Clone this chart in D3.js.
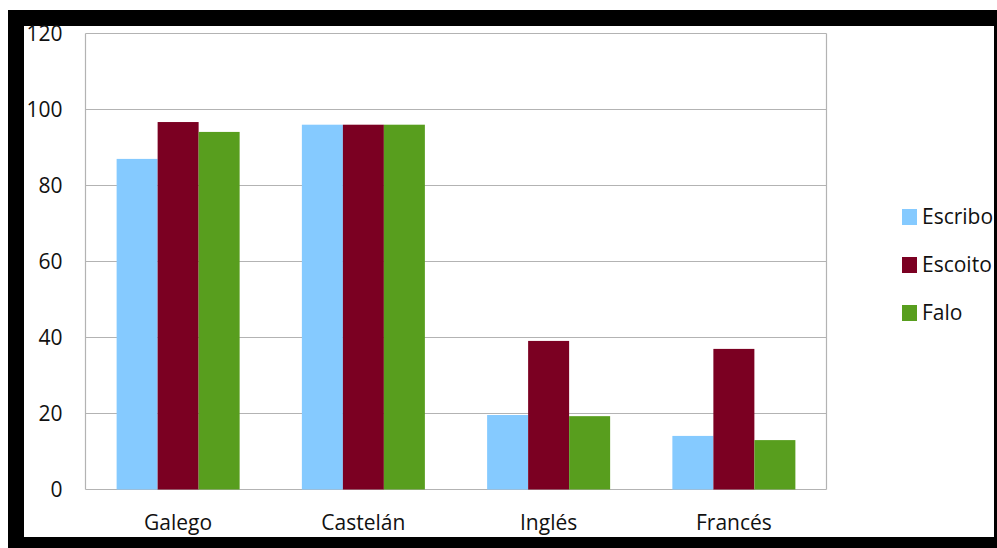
<!DOCTYPE html>
<html>
  <head>
    <meta charset="utf-8" />
    <title>Linguas</title>
    <script src="https://cdn.jsdelivr.net/npm/d3@7"></script>
    <style>
      body { margin: 0; background: #fff; }
      text { font-family: "Open Sans", sans-serif; fill: #111; }
    </style>
  </head>
  <body>
    <script>
// data
var categories = ["Galego", "Castelán", "Inglés", "Francés"];
var seriesNames = ["Escribo", "Escoito", "Falo"];
var escribo = [87, 96, 19.6, 14.1];
var escoito = [96.7, 96, 39.1, 37];
var falo = [94.1, 96, 19.3, 13];
var yTicks = [0, 20, 40, 60, 80, 100, 120];
var colors = ["#85caff", "#7b0022", "#589e1e"];

var w = 997, h = 548;
var svg = d3.select("body").append("svg").attr("width", w).attr("height", h);

// black frame
svg.append("rect").attr("x", 8).attr("y", 10).attr("width", 1000).attr("height", 560).attr("fill", "#000");
svg.append("rect").attr("x", 24).attr("y", 26).attr("width", 970).attr("height", 511).attr("fill", "#fff");

var plot = { left: 85.5, right: 826.5, top: 33.5, bottom: 489.5 };

var x = d3.scaleBand()
  .domain(categories)
  .range([plot.left, plot.right])
  .paddingInner(0.336)
  .paddingOuter(0.168);

var xs = d3.scaleBand().domain(seriesNames).range([0, x.bandwidth()]);

var y = d3.scaleLinear().domain([0, 120]).range([plot.bottom, plot.top]);

// gridlines
svg.append("g").selectAll("line")
  .data(yTicks)
  .enter().append("line")
  .attr("x1", plot.left).attr("x2", plot.right)
  .attr("y1", function(d) { return y(d); })
  .attr("y2", function(d) { return y(d); })
  .attr("stroke", "#b3b3b3").attr("stroke-width", 1.2);

// plot box sides
svg.append("line").attr("x1", plot.left).attr("x2", plot.left)
  .attr("y1", plot.top).attr("y2", plot.bottom).attr("stroke", "#b3b3b3").attr("stroke-width", 1.2);
svg.append("line").attr("x1", plot.right).attr("x2", plot.right)
  .attr("y1", plot.top).attr("y2", plot.bottom).attr("stroke", "#b3b3b3").attr("stroke-width", 1.2);

var table = categories.map(function(c, i) {
  return { cat: c, vals: [escribo[i], escoito[i], falo[i]] };
});

var groups = svg.append("g").selectAll("g")
  .data(table)
  .enter().append("g")
  .attr("transform", function(d) { return "translate(" + x(d.cat) + ",0)"; });

groups.selectAll("rect")
  .data(function(d) { return d.vals.map(function(v, j) { return { name: seriesNames[j], v: v, j: j }; }); })
  .enter().append("rect")
  .attr("x", function(d) { return xs(d.name); })
  .attr("width", xs.bandwidth())
  .attr("y", function(d) { return y(d.v); })
  .attr("height", function(d) { return y(0) - y(d.v); })
  .attr("fill", function(d) { return colors[d.j]; });

// y axis labels
var yAxis = svg.append("g")
  .attr("transform", "translate(" + (plot.left - 23) + ",0)")
  .call(d3.axisLeft(y).tickValues(yTicks).tickSize(0).tickPadding(0));
yAxis.select(".domain").remove();
yAxis.selectAll("text").style("font-size", "21px").style("font-family", "'Open Sans', sans-serif").attr("fill", "#111");

// x axis labels
var xAxis = svg.append("g")
  .attr("transform", "translate(0," + (plot.bottom + 26) + ")")
  .call(d3.axisBottom(x).tickSize(0).tickPadding(0));
xAxis.select(".domain").remove();
xAxis.selectAll("text").style("font-size", "21px").style("font-family", "'Open Sans', sans-serif").attr("fill", "#111");

// legend
var legend = svg.append("g").selectAll("g")
  .data(seriesNames)
  .enter().append("g")
  .attr("transform", function(d, i) { return "translate(902," + (217 + i * 48) + ")"; });
legend.append("rect")
  .attr("x", 0).attr("y", -8).attr("width", 15).attr("height", 16)
  .attr("fill", function(d, i) { return colors[i]; });
legend.append("text")
  .attr("x", 20).attr("y", 0).attr("dy", "0.35em")
  .style("font-size", "21px")
  .text(function(d) { return d; });
    </script>
  </body>
</html>
